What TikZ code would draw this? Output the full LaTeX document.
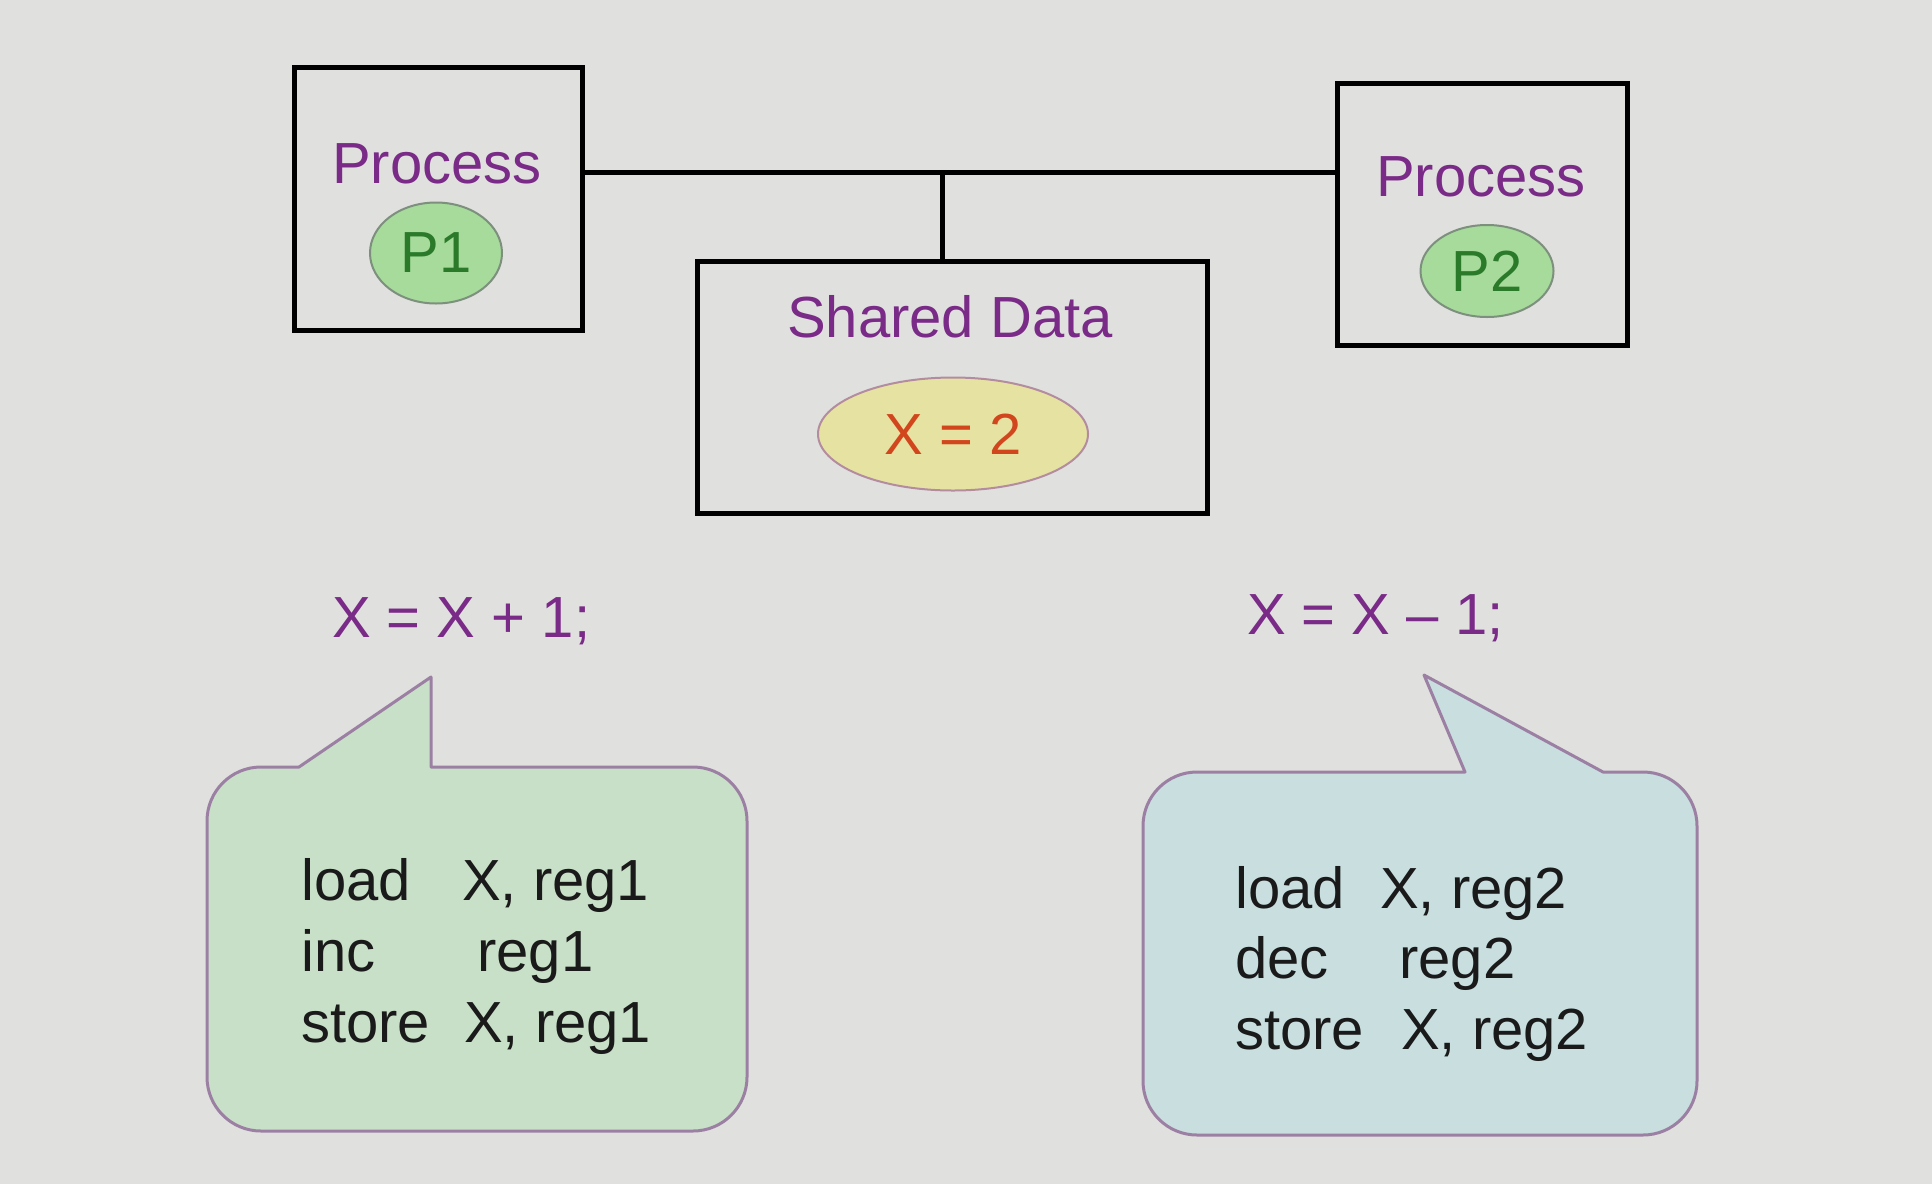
\documentclass[tikz,border=0pt]{standalone}
\usepackage{fontspec}
\setmainfont{Liberation Sans}
\usetikzlibrary{shapes.geometric}
\definecolor{bgc}{HTML}{E0E0DE}
\definecolor{purp}{HTML}{7A2A87}
\definecolor{gfill}{HTML}{A6DB9B}
\definecolor{gline}{HTML}{7D8F7D}
\definecolor{gtext}{HTML}{2A7A2A}
\definecolor{yfill}{HTML}{E6E3A2}
\definecolor{yline}{HTML}{B48CA0}
\definecolor{rtext}{HTML}{D2461E}
\definecolor{lbfill}{HTML}{C9E0C8}
\definecolor{rbfill}{HTML}{C8DEDF}
\definecolor{bline}{HTML}{9C80A4}
\definecolor{codec}{HTML}{1A1A1A}
\begin{document}
\begin{tikzpicture}[x=1pt,y=1pt,
  bigtxt/.style={font=\fontsize{58}{70}\selectfont, inner sep=0pt},
  ptitle/.style={bigtxt, text=purp, anchor=base},
  procbox/.style={draw=black, line width=5pt, rectangle, inner sep=0pt},
  pell/.style={ellipse, draw=gline, line width=2pt, fill=gfill, inner sep=0pt, text=gtext, bigtxt},
  codetxt/.style={bigtxt, text=codec, anchor=base west},
  bubble/.style={draw=bline, line width=3pt, line join=round},
  wire/.style={draw=black, line width=5pt}]
\fill[bgc] (0,0) rectangle (1932,-1184);
\useasboundingbox (0,0) rectangle (1932,-1184);

% process boxes
\node[procbox, minimum width=288pt, minimum height=263pt] (p1) at (438,-198.5) {};
\node[procbox, minimum width=290pt, minimum height=262pt] (p2) at (1482,-214) {};
\node[procbox, minimum width=510pt, minimum height=252pt] (sd) at (952,-387) {};

% connectors
\coordinate (bus) at (942,-172);
\draw[wire] (p1.east |- bus) -- (p2.west |- bus);
\draw[wire] (bus) -- (bus |- sd.north);

% titles
\node[ptitle] (t1) at (437,-183) {Process};
\node[ptitle] (t2) at (1481,-196) {Process};
\node[ptitle] (t3) at (950,-337) {Shared Data};

% ellipses
\node[pell, minimum width=132pt, minimum height=101pt] (e1) at (436,-253) {P1};
\node[pell, minimum width=133pt, minimum height=92pt] (e2) at (1487,-271) {P2};
\node[ellipse, draw=yline, line width=2pt, fill=yfill, inner sep=0pt, bigtxt, text=rtext,
      minimum width=270pt, minimum height=113pt] (ex) at (953,-434) {X = 2};

% statements
\node[bigtxt, text=purp, anchor=base west] (s1) at (332,-637) {X = X + 1;};
\node[bigtxt, text=purp, anchor=base west] (s2) at (1247,-634) {X = X – 1;};

% left bubble
\filldraw[bubble, fill=lbfill] (299,-767) -- (431,-677) -- (431,-767) -- (693,-767)
  arc[start angle=90, end angle=0, radius=54pt] -- (747,-1077)
  arc[start angle=0, end angle=-90, radius=54pt] -- (261,-1131)
  arc[start angle=270, end angle=180, radius=54pt] -- (207,-821)
  arc[start angle=180, end angle=90, radius=54pt] -- cycle;

% right bubble
\filldraw[bubble, fill=rbfill] (1465,-772) -- (1424,-675) -- (1603,-772) -- (1643,-772)
  arc[start angle=90, end angle=0, radius=54pt] -- (1697,-1081)
  arc[start angle=0, end angle=-90, radius=54pt] -- (1197,-1135)
  arc[start angle=270, end angle=180, radius=54pt] -- (1143,-826)
  arc[start angle=180, end angle=90, radius=54pt] -- cycle;

% left code
\node[codetxt] (l1a) at (301,-900) {load};
\node[codetxt] (l1b) at (462,-900) {X, reg1};
\node[codetxt] (l2a) at (301,-971) {inc};
\node[codetxt] (l2b) at (477,-971) {reg1};
\node[codetxt] (l3a) at (301,-1042) {store};
\node[codetxt] (l3b) at (464,-1042) {X, reg1};

% right code
\node[codetxt] (r1a) at (1235,-908) {load};
\node[codetxt] (r1b) at (1380,-908) {X, reg2};
\node[codetxt] (r2a) at (1235,-978) {dec};
\node[codetxt] (r2b) at (1399,-978) {reg2};
\node[codetxt] (r3a) at (1235,-1049) {store};
\node[codetxt] (r3b) at (1401,-1049) {X, reg2};
\end{tikzpicture}
\end{document}
